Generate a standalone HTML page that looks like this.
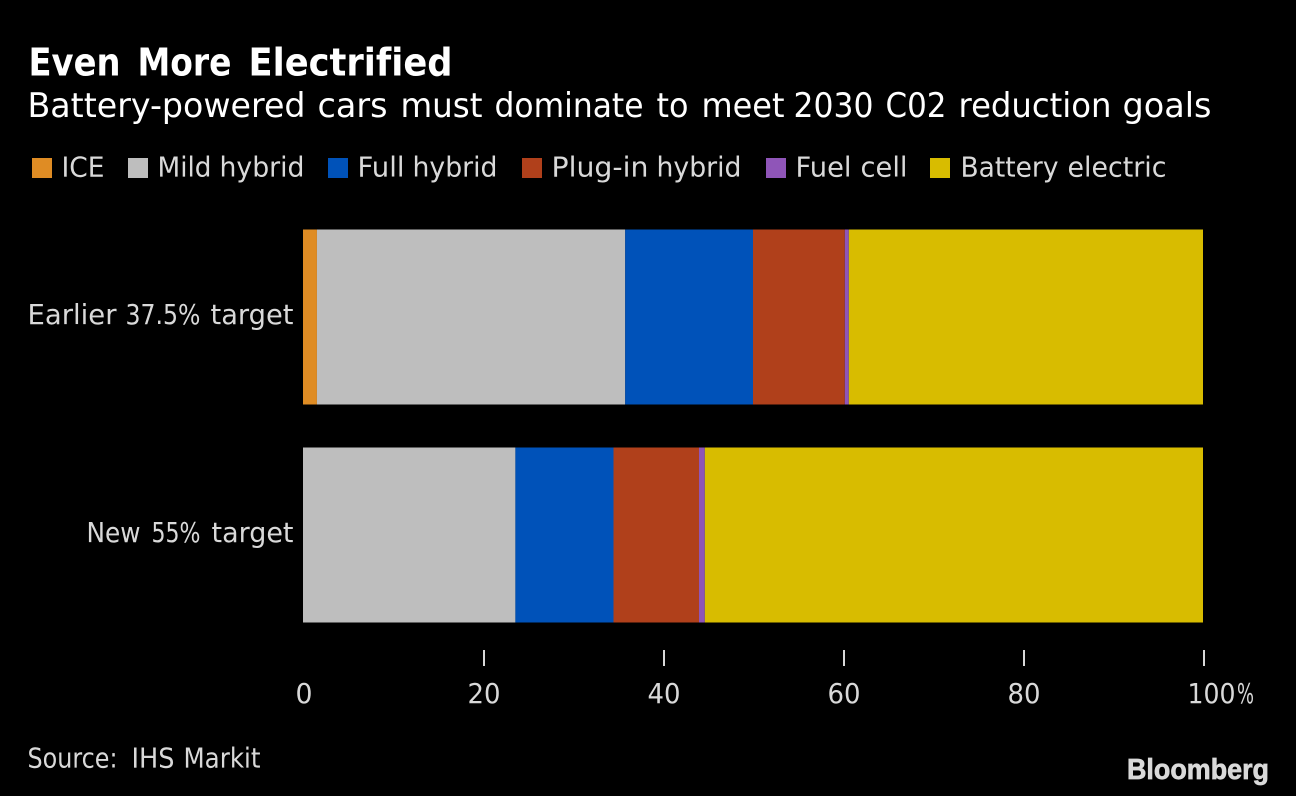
<!DOCTYPE html>
<html>
<head>
<meta charset="utf-8">
<style>
html,body{margin:0;padding:0;background:#000;}
svg{display:block;}
text{font-family:"DejaVu Sans","Liberation Sans",sans-serif;font-variant-ligatures:none;white-space:pre;}
</style>
</head>
<body>
<svg id="chart" width="1296" height="796" viewBox="0 0 1296 796" xmlns="http://www.w3.org/2000/svg">
<rect x="0" y="0" width="1296" height="796" fill="#000"/>
<text id="title" y="75.5" font-size="38" font-weight="700" fill="#fff"></text>
<text id="subtitle" y="117" font-size="34" fill="#fff"></text>
<text id="source" y="767.5" font-size="27.5" fill="#d9d9d9"></text>
<text x="1127" y="779" font-size="29" font-weight="700" fill="#d9d9d9" stroke="#d9d9d9" stroke-width="0.7" textLength="142" lengthAdjust="spacingAndGlyphs" style="font-family:'Liberation Sans',sans-serif">Bloomberg</text>
<g id="legend"></g>
<g id="bars"></g>
<g id="axis"></g>
</svg>
<script>
const categories = ['Earlier 37.5% target', 'New 55% target'];
const seriesNames = ['ICE', 'Mild hybrid', 'Full hybrid', 'Plug-in hybrid', 'Fuel cell', 'Battery electric'];
const iceValues = [1.55, 0];
const mildValues = [34.25, 23.6];
const fullValues = [14.2, 10.9];
const plugValues = [10.2, 9.5];
const fuelValues = [0.45, 0.65];
const batteryValues = [39.35, 55.35];
const tickValues = [0, 20, 40, 60, 80, 100];
const tickLabels = ['0', '20', '40', '60', '80', '100%'];

const seriesValues = [iceValues, mildValues, fullValues, plugValues, fuelValues, batteryValues];
const colors = ['#DF8C24', '#BEBEBE', '#0052B9', '#B0401B', '#8F55B8', '#D8BC00'];
const NS = 'http://www.w3.org/2000/svg';
const xScale = function (v) { return 303 + v * 9; };
const yScale = function (i) { return 229.5 + i * 218; };
const barH = 175;

function make(tag, attrs, parent, content) {
  const el = document.createElementNS(NS, tag);
  Object.keys(attrs).forEach(function (k) { el.setAttribute(k, attrs[k]); });
  if (content !== undefined) el.textContent = content;
  parent.appendChild(el);
  return el;
}

// Lays each word out to its measured ink extent [start, end], keeping the line as one text element.
function fillWords(textEl, str, extents) {
  const words = str.split(' ');
  words.forEach(function (w, i) {
    const e = extents[i];
    make('tspan', {x: e[0] - 1.5, textLength: e[1] - e[0] + 3, lengthAdjust: 'spacingAndGlyphs'}, textEl, w);
    if (i < words.length - 1) textEl.appendChild(document.createTextNode(' '));
  });
}

fillWords(document.getElementById('title'), 'Even More Electrified',
  [[30, 119], [139, 230], [250, 451]]);
fillWords(document.getElementById('subtitle'), 'Battery-powered cars must dominate to meet 2030 C02 reduction goals',
  [[29, 304], [319, 386], [402, 481], [496, 642], [658, 687], [703, 783], [795, 872], [887, 945], [960, 1110], [1124, 1210]]);
fillWords(document.getElementById('source'), 'Source: IHS Markit',
  [[29, 116], [133, 173], [185, 259]]);

const barsG = document.getElementById('bars');
const categoryExtents = [
  [[29, 115], [127, 199], [212, 292]],
  [[88, 139], [153, 199], [213, 292]]
];
categories.forEach(function (cat, i) {
  let cum = 0;
  seriesValues.forEach(function (vals, s) {
    const v = vals[i];
    if (v > 0) {
      const r = make('rect', {x: xScale(cum), y: yScale(i), width: xScale(cum + v) - xScale(cum), height: barH, fill: colors[s]}, barsG);
      
      
    }
    cum += v;
  });
  const lab = make('text', {y: yScale(i) + 94.5, 'font-size': 27.5, fill: '#d9d9d9'}, barsG);
  
  
  fillWords(lab, cat, categoryExtents[i]);
});

const legendG = document.getElementById('legend');
const legendSwatchX = [32, 128, 328, 522, 766, 930];
const legendExtents = [
  [[63, 103]],
  [[159, 210], [221, 303]],
  [[359, 403], [414, 496]],
  [[553, 647], [658, 740]],
  [[797, 850], [862, 906]],
  [[962, 1057], [1069, 1165]]
];
seriesNames.forEach(function (name, s) {
  const sw = make('rect', {x: legendSwatchX[s], y: 158, width: 20, height: 20, fill: colors[s]}, legendG);
  
  
  const t = make('text', {y: 176.5, 'font-size': 27.5, fill: '#d9d9d9'}, legendG);
  
  
  fillWords(t, name, legendExtents[s]);
});

const axisG = document.getElementById('axis');
tickValues.forEach(function (v, i) {
  const x = xScale(v) + 1;
  if (v > 0) {
    const tk = make('rect', {x: x - 1, y: 650, width: 2, height: 16, fill: '#d9d9d9'}, axisG);
    
    
  }
  const isLast = i === tickValues.length - 1;
  const lb = make('text', {y: 703, 'font-size': 27.5, fill: '#d9d9d9'}, axisG);
  
  
  if (isLast) {
    const label = tickLabels[i];
    make('tspan', {x: 1187.5, textLength: 48, lengthAdjust: 'spacingAndGlyphs'}, lb, label.slice(0, -1));
    make('tspan', {x: 1237, textLength: 17, lengthAdjust: 'spacingAndGlyphs'}, lb, label.slice(-1));
  } else {
    const w = v === 0 ? 17 : 33;
    make('tspan', {x: x - w / 2, textLength: w, lengthAdjust: 'spacingAndGlyphs'}, lb, tickLabels[i]);
  }
});
</script>
</body>
</html>
